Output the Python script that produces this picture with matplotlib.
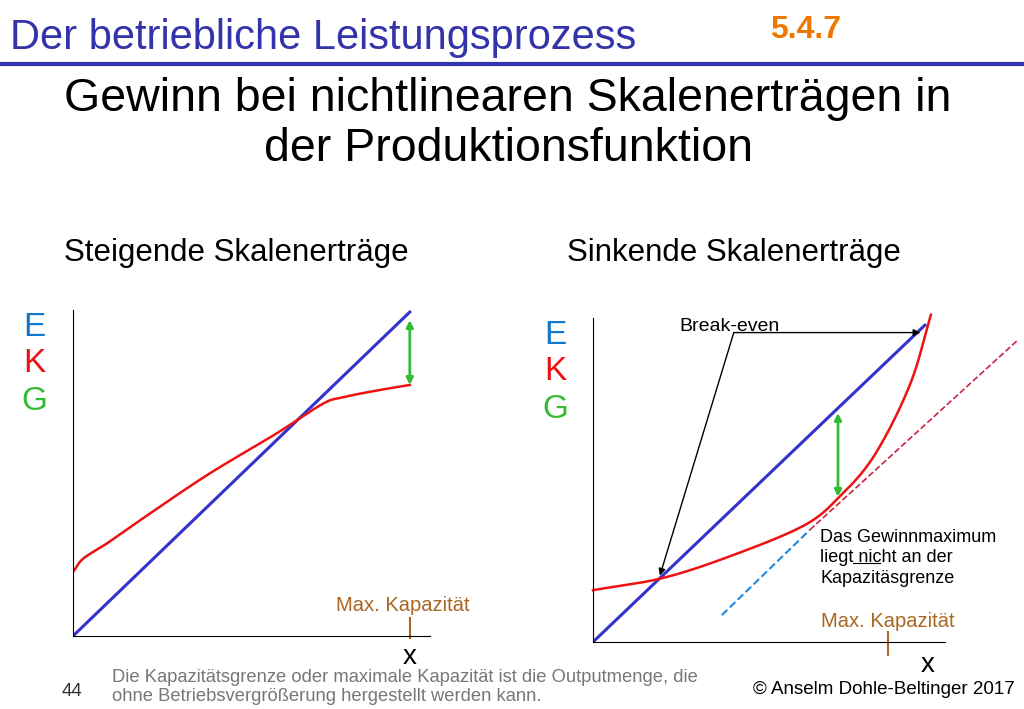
import matplotlib
matplotlib.use("Agg")
import matplotlib.pyplot as plt
import numpy as np
from matplotlib.lines import Line2D

plt.rcParams["font.family"] = "Liberation Sans"

# Left panel data (steigende Skalenerträge)
L_e_x = [0, 10]
L_e_y = [0, 9.64]
L_k_x = [0, 0.3, 1, 2, 4, 6, 7.4, 8, 9, 10]
L_k_y = [1.9, 2.3, 2.75, 3.45, 4.8, 6.0, 6.9, 7.1, 7.3, 7.47]
L_cap = 10.0

# Right panel data (sinkende Skalenerträge)
R_e_x = [0, 9.43]
R_e_y = [0, 9.78]
R_k_x = [0, 2, 4, 6, 7, 8, 9, 9.6]
R_k_y = [1.6, 1.98, 2.69, 3.6, 4.48, 5.77, 7.93, 10.1]
R_tan_x = [3.66, 6.16, 12.07]
R_tan_y = [0.83, 3.46, 9.32]
R_gain_x = 6.96
R_gain_y = [4.48, 7.07]
R_cap = 8.38


def smooth(x, y, n=300):
    """Catmull-Rom spline through the read points (for drawing only)."""
    x = np.asarray(x, float); y = np.asarray(y, float)
    px = np.concatenate([[2*x[0]-x[1]], x, [2*x[-1]-x[-2]]])
    py = np.concatenate([[2*y[0]-y[1]], y, [2*y[-1]-y[-2]]])
    ox, oy = [], []
    t = np.linspace(0, 1, 30)
    for i in range(1, len(px)-2):
        for P, out in ((px, ox), (py, oy)):
            p0, p1, p2, p3 = P[i-1], P[i], P[i+1], P[i+2]
            out.extend(0.5*((2*p1) + (-p0+p2)*t + (2*p0-5*p1+4*p2-p3)*t**2 + (-p0+3*p1-3*p2+p3)*t**3))
    return ox, oy


W, H = 1024, 709
fig = plt.figure(figsize=(W/100, H/100), dpi=100)

def ax_px(x0, y0, x1, y1):
    return fig.add_axes([x0/W, 1-y0/H, (x1-x0)/W, (y0-y1)/H])

blue = "#3333cc"; red = "#ee1111"; green = "#33bb33"
brown = "#aa6622"

def style(ax, xmax, ymax):
    ax.set_xlim(0, xmax); ax.set_ylim(0, ymax)
    for s in ["top", "right"]:
        ax.spines[s].set_visible(False)
    ax.set_xticks([]); ax.set_yticks([])
    ax.patch.set_alpha(0)

arrow2 = dict(arrowstyle="<|-|>", color=green, lw=2, mutation_scale=10, shrinkA=0, shrinkB=0)

# left
axL = ax_px(73, 636, 430, 310)
style(axL, 10.6, 9.7)
axL.plot(L_e_x, L_e_y, color=blue, lw=2.2)
axL.plot(*smooth(L_k_x, L_k_y), color=red, lw=1.8)
axL.annotate("", xy=(L_cap, 9.4), xytext=(L_cap, 7.47), arrowprops=arrow2)
axL.plot([L_cap, L_cap], [-0.05, 0.55], color=brown, lw=1.5, clip_on=False)
axL.text(L_cap-2.2, 0.75, "Max. Kapazität", color=brown, fontsize=14.5)
axL.text(L_cap, -0.25, "x", fontsize=20, ha="center", va="top")

# right
axR = ax_px(593, 642, 945, 318)
style(axR, 10, 10)
axR.plot(R_e_x, R_e_y, color=blue, lw=2.2)
axR.plot(*smooth(R_k_x, R_k_y), color=red, lw=1.8, clip_on=False)
axR.plot(R_tan_x[:2], R_tan_y[:2], color="#2288dd", lw=1.5, ls="--", clip_on=False)
axR.plot(R_tan_x[1:], R_tan_y[1:], color="#cc2244", lw=1.2, ls="--", clip_on=False)
axR.annotate("", xy=(R_gain_x, R_gain_y[1]), xytext=(R_gain_x, R_gain_y[0]), arrowprops=arrow2)
axR.plot([R_cap, R_cap], [-0.4, 0.3], color=brown, lw=1.5, clip_on=False)
axR.text(R_cap, 0.45, "Max. Kapazität", color=brown, fontsize=14.5, ha="center")
axR.text(9.5, -0.3, "x", fontsize=20, ha="center", va="top")
axR.text(2.45, 9.6, "Break-even", fontsize=14)
axR.annotate("", xy=(9.3, 9.55), xytext=(4.0, 9.55),
             arrowprops=dict(arrowstyle="-|>", color="black", lw=1, shrinkA=0, shrinkB=0))
axR.annotate("", xy=(1.9, 2.05), xytext=(4.0, 9.55),
             arrowprops=dict(arrowstyle="-|>", color="black", lw=1, shrinkA=0, shrinkB=0))
axR.text(6.45, 3.5, "Das Gewinnmaximum\nliegt nicht an der\nKapazitäsgrenze",
         fontsize=13, va="top", linespacing=1.3)
axR.plot([7.39, 8.16], [2.45, 2.45], color="black", lw=0.8)

# texts
fig.text(10/W, 1-38/H, "Der betriebliche Leistungsprozess", color="#3333aa", fontsize=30, va="center")
fig.text(770/W, 1-30/H, "5.4.7", color="#ee7700", fontsize=23, fontweight="bold", va="center")
fig.add_artist(Line2D([0, 1], [1-64/H, 1-64/H], color="#3333aa", lw=3))
fig.text(508/W, 1-124/H, "Gewinn bei nichtlinearen Skalenerträgen in\nder Produktionsfunktion",
         fontsize=33.5, ha="center", va="center", linespacing=1.15)
fig.text(236/W, 1-253/H, "Steigende Skalenerträge", fontsize=22.5, ha="center", va="center")
fig.text(734/W, 1-253/H, "Sinkende Skalenerträge", fontsize=22.5, ha="center", va="center")
for (x, yy) in [(34, 0), (555, 8)]:
    fig.text(x/W, 1-(328+yy)/H, "E", color="#1177cc", fontsize=24, ha="center", va="center")
    fig.text(x/W, 1-(364+yy)/H, "K", color="#ee1111", fontsize=24, ha="center", va="center")
    fig.text(x/W, 1-(402+yy)/H, "G", color="#33bb33", fontsize=24, ha="center", va="center")
fig.text(112/W, 1-687/H, "Die Kapazitätsgrenze oder maximale Kapazität ist die Outputmenge, die\nohne Betriebsvergrößerung hergestellt werden kann.",
         fontsize=13.2, color="#777777", va="center", linespacing=1.1)
fig.text(62/W, 1-692/H, "44", fontsize=13.5, color="#333333", va="center")
fig.text(1015/W, 1-690/H, "© Anselm Dohle-Beltinger 2017", fontsize=13.5, ha="right", va="center")

fig.savefig("out.png", dpi=100)
